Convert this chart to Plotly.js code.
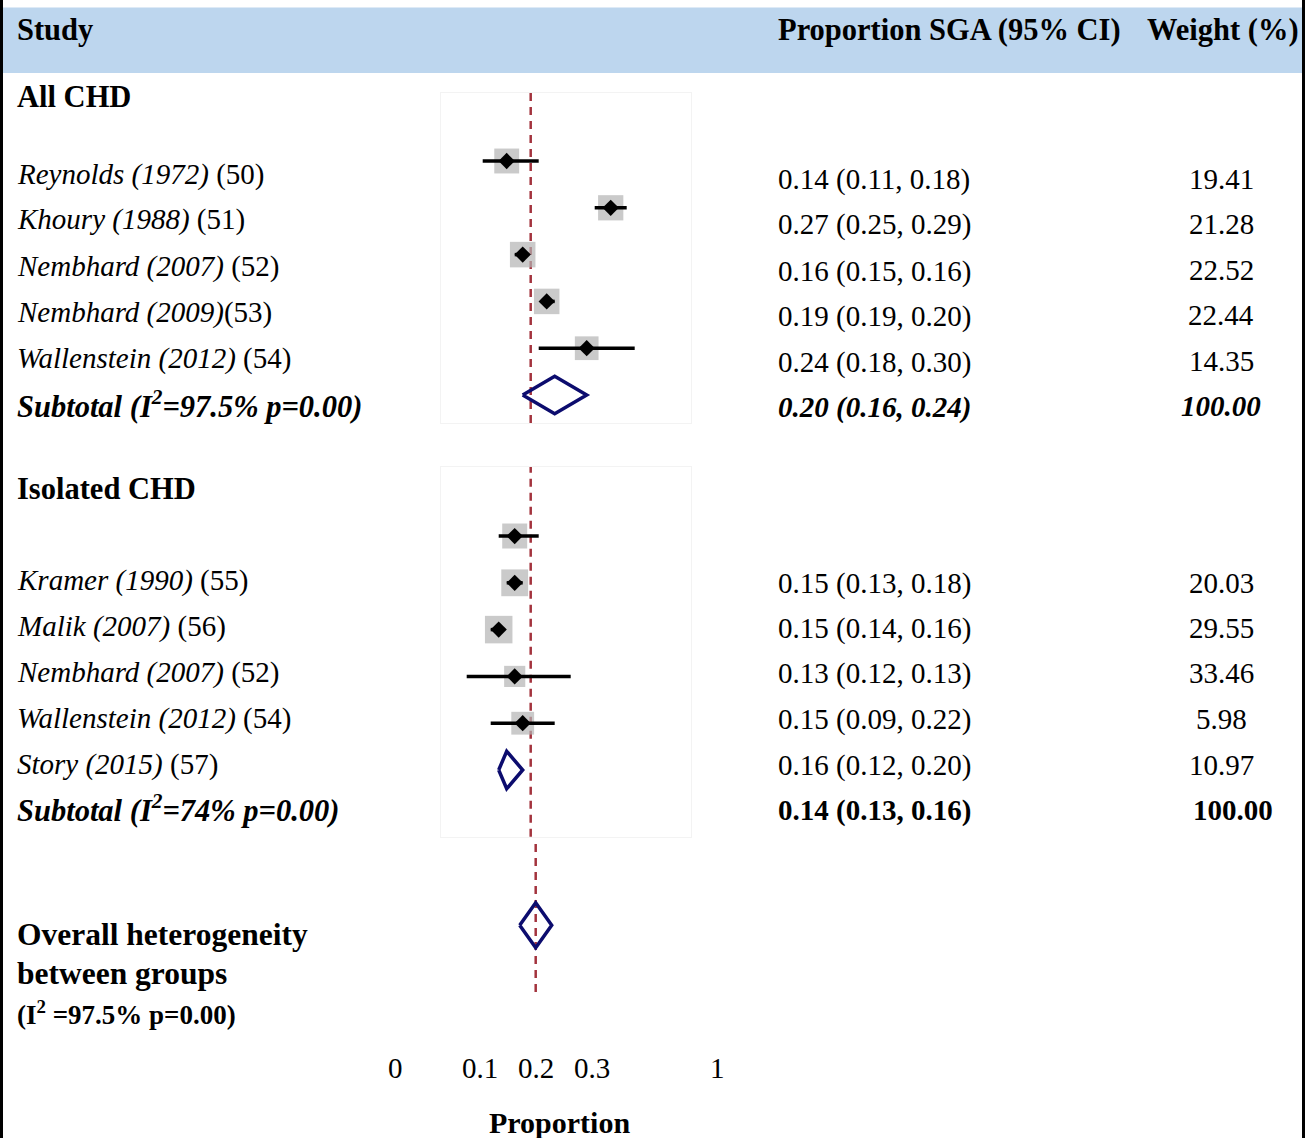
<!DOCTYPE html>
<html>
<head>
<meta charset="utf-8">
<script src="https://cdn.plot.ly/plotly-3.0.1.min.js"></script>
<style>html,body{margin:0;padding:0;background:#fff;}#chart{width:1316px;height:1138px;}</style>
</head>
<body>
<div id="chart"></div>
<script>
// ---------- DATA ----------
const groupNames = ["All CHD", "Isolated CHD"];

const studiesAll = ["Reynolds (1972)", "Khoury (1988)", "Nembhard (2007)", "Nembhard (2009)", "Wallenstein (2012)"];
const refsAll    = [" (50)", " (51)", " (52)", "(53)", " (54)"];
const esAll      = [0.14, 0.27, 0.16, 0.19, 0.24];
const loAll      = [0.11, 0.25, 0.15, 0.19, 0.18];
const hiAll      = [0.18, 0.29, 0.16, 0.20, 0.30];
const weightAll  = [19.41, 21.28, 22.52, 22.44, 14.35];

const studiesIso = ["Kramer (1990)", "Malik (2007)", "Nembhard (2007)", "Wallenstein (2012)", "Story (2015)"];
const refsIso    = [" (55)", " (56)", " (52)", " (54)", " (57)"];
const esIso      = [0.15, 0.15, 0.13, 0.15, 0.16];
const loIso      = [0.13, 0.14, 0.12, 0.09, 0.12];
const hiIso      = [0.18, 0.16, 0.13, 0.22, 0.20];
const weightIso  = [20.03, 29.55, 33.46, 5.98, 10.97];

const subtotalES = [0.20, 0.14];
const subtotalLo = [0.16, 0.13];
const subtotalHi = [0.24, 0.16];
const subtotalI2 = ["97.5%", "74%"];
const subtotalP  = ["0.00", "0.00"];
const subtotalW  = [100.00, 100.00];

const overallES = 0.17;
const overallLo = 0.15;
const overallHi = 0.19;
const overallI2 = "97.5%";
const overallP  = "0.00";

const tickLabels = ["0", "0.1", "0.2", "0.3", "1"];
const axisTitle = "Proportion";
const headers = ["Study", "Proportion SGA (95% CI)", "Weight (%)"];

// ---------- LAYOUT HELPERS ----------
const W = 1316, H = 1138;
const px = x => x / W;
const py = y => 1 - y / H;
const FONT = "Liberation Serif";
const FS = 29;
const FSB = 30.5;
const NAVY = "#0c0c6e";
const GREY = "#b3b3b3";
const RED = "#a3333d";
const f2 = v => v.toFixed(2);
const rows = n => Array.from({length: n}, (_, i) => i + 1);
const boxSize = w => 16.5 + 1.9 * Math.sqrt(w);
const SUP2 = "<sup>2</sup>";

function panelTraces(xa, ya, es, lo, hi, w, sES, sLo, sHi) {
  const r = rows(es.length);
  const sRow = es.length + 1;
  return [
    { type: "scatter", mode: "markers", xaxis: xa, yaxis: ya, x: es, y: r,
      marker: { symbol: "square", size: w.map(boxSize), color: GREY, line: { width: 0 } },
      hoverinfo: "skip", showlegend: false },
    { type: "scatter", mode: "markers", xaxis: xa, yaxis: ya, x: es, y: r,
      marker: { symbol: "diamond", size: 12.5, color: "#000", line: { width: 0 } },
      error_x: { type: "data", symmetric: false,
        array: es.map((v, i) => hi[i] - v), arrayminus: es.map((v, i) => v - lo[i]),
        color: "#000", thickness: 3.5, width: 0 },
      hoverinfo: "skip", showlegend: false },
    { type: "scatter", mode: "lines", xaxis: xa, yaxis: ya,
      x: [sLo, sES, sHi, sES, sLo], y: [sRow, sRow - 0.4, sRow, sRow + 0.4, sRow],
      line: { color: NAVY, width: 3.5 }, hoverinfo: "skip", showlegend: false }
  ];
}

const traces = [
  ...panelTraces("x", "y", esAll, loAll, hiAll, weightAll, subtotalES[0], subtotalLo[0], subtotalHi[0]),
  ...panelTraces("x2", "y2", esIso, loIso, hiIso, weightIso, subtotalES[1], subtotalLo[1], subtotalHi[1]),
  { type: "scatter", mode: "lines", xaxis: "x3", yaxis: "y3",
    x: [overallLo, overallES, overallHi, overallES, overallLo], y: [0, -0.48, 0, 0.48, 0],
    line: { color: NAVY, width: 3.5 }, hoverinfo: "skip", showlegend: false }
];

// pixel scale of the forest panels: x = 394.7 + 800 * p
const xr = (a, b, off) => [(a - off) / 800, (b - off) / 800];
const baseAx = { showticklabels: false, showgrid: false, zeroline: false, ticks: "", fixedrange: true };
const boxAx = Object.assign({}, baseAx, { showline: true, mirror: true, linecolor: "#f3f3f3", linewidth: 1 });

const annotations = [];
function txt(x, y, text, opts) {
  annotations.push(Object.assign({ xref: "paper", yref: "paper", x: px(x), y: py(y), text: text,
    showarrow: false, xanchor: "left", yanchor: "middle", borderpad: 0, borderwidth: 0,
    font: { family: FONT, size: FS, color: "#000" } }, opts || {}));
}
const bold = { font: { family: FONT, size: FSB, color: "#000" } };
const LX = 17;
const CX = 778;

// headers
txt(LX, 30, "<b>" + headers[0] + "</b>", bold);
txt(CX, 30, "<b>" + headers[1] + "</b>", bold);
txt(1147, 30, "<b>" + headers[2] + "</b>", bold);

// group 1
txt(LX, 97, "<b>" + groupNames[0] + "</b>", bold);
const yAllL = [175, 220, 266, 312, 358];
const yAllR = [180, 225, 271, 316, 362];
studiesAll.forEach((s, i) => {
  txt(LX, yAllL[i], "<i>" + s + "</i>" + refsAll[i]);
  txt(CX, yAllR[i], f2(esAll[i]) + " (" + f2(loAll[i]) + ", " + f2(hiAll[i]) + ")");
  txt(1221, yAllR[i] - 1, f2(weightAll[i]), { xanchor: "center" });
});
txt(LX, 404, "<b><i>Subtotal (I" + SUP2 + "=" + subtotalI2[0] + " p=" + subtotalP[0] + ")</i></b>", bold);
txt(CX, 407, "<b><i>" + f2(subtotalES[0]) + " (" + f2(subtotalLo[0]) + ", " + f2(subtotalHi[0]) + ")</i></b>");
txt(1221, 406, "<b><i>" + f2(subtotalW[0]) + "</i></b>", { xanchor: "center" });

// group 2
txt(LX, 489, "<b>" + groupNames[1] + "</b>", bold);
const yIsoL = [580, 626, 672, 718, 764];
const yIsoR = [583, 628, 673, 719, 765];
studiesIso.forEach((s, i) => {
  txt(LX, yIsoL[i], "<i>" + s + "</i>" + refsIso[i]);
  txt(CX, yIsoR[i], f2(esIso[i]) + " (" + f2(loIso[i]) + ", " + f2(hiIso[i]) + ")");
  txt(1221, yIsoR[i], f2(weightIso[i]), { xanchor: "center" });
});
txt(LX, 808, "<b><i>Subtotal (I" + SUP2 + "=" + subtotalI2[1] + " p=" + subtotalP[1] + ")</i></b>", bold);
txt(CX, 810, "<b>" + f2(subtotalES[1]) + " (" + f2(subtotalLo[1]) + ", " + f2(subtotalHi[1]) + ")</b>");
txt(1233, 810, "<b>" + f2(subtotalW[1]) + "</b>", { xanchor: "center" });

// overall
const boldBig = { font: { family: FONT, size: 31.5, color: "#000" } };
txt(LX, 934, "<b>Overall heterogeneity</b>", boldBig);
txt(LX, 973, "<b>between groups</b>", boldBig);
txt(LX, 1013, "<b>(I" + SUP2 + " =" + overallI2 + " p=" + overallP + ")</b>", { font: { family: FONT, size: 27, color: "#000" } });

// axis tick labels and title
const tickPx = [395, 480, 536, 592, 717];
tickLabels.forEach((t, i) => txt(tickPx[i], 1068, t, { xanchor: "center" }));
txt(559, 1122, "<b>" + axisTitle + "</b>", { xanchor: "center", font: { family: FONT, size: 30, color: "#000" } });

const dashLine = (xref, yref, v) => ({ type: "line", xref: xref, yref: yref + " domain", x0: v, x1: v, y0: 0, y1: 1,
  layer: "below", line: { color: RED, width: 2.5, dash: "8px,6px" } });

const shapes = [
  { type: "rect", xref: "paper", yref: "paper", x0: px(3), x1: px(1302), y0: py(73), y1: py(7.5),
    fillcolor: "#bdd6ee", line: { width: 0 }, layer: "below" },
  { type: "rect", xref: "paper", yref: "paper", x0: 0, x1: px(3), y0: 0, y1: 1,
    fillcolor: "#000", line: { width: 0 } },
  { type: "rect", xref: "paper", yref: "paper", x0: px(1302), x1: px(1305), y0: 0, y1: 1,
    fillcolor: "#000", line: { width: 0 } },
  dashLine("x", "y", overallES),
  dashLine("x2", "y2", overallES),
  dashLine("x3", "y3", overallES)
];

const layout = {
  width: W, height: H,
  margin: { l: 0, r: 0, t: 0, b: 0 },
  paper_bgcolor: "#fff", plot_bgcolor: "rgba(0,0,0,0)",
  showlegend: false,
  font: { family: FONT, size: FS, color: "#000" },
  xaxis: Object.assign({}, boxAx, { domain: [px(441), px(691)], range: xr(441, 691, 394.7), anchor: "y" }),
  yaxis: Object.assign({}, boxAx, { domain: [py(423), py(93)], range: [6.598, -0.453], anchor: "x" }),
  xaxis2: Object.assign({}, boxAx, { domain: [px(441), px(691)], range: xr(441, 691, 394.7), anchor: "y2" }),
  yaxis2: Object.assign({}, boxAx, { domain: [py(836.7), py(466.7)], range: [7.425, -0.481], anchor: "x2" }),
  xaxis3: Object.assign({}, baseAx, { domain: [px(441), px(691)], range: xr(441, 691, 399.7), anchor: "y3" }),
  yaxis3: Object.assign({}, baseAx, { domain: [py(992), py(840)], range: [1.425, -1.823], anchor: "x3" }),
  annotations: annotations,
  shapes: shapes
};

Plotly.newPlot("chart", traces, layout, { staticPlot: true, displayModeBar: false });
</script>
</body>
</html>
